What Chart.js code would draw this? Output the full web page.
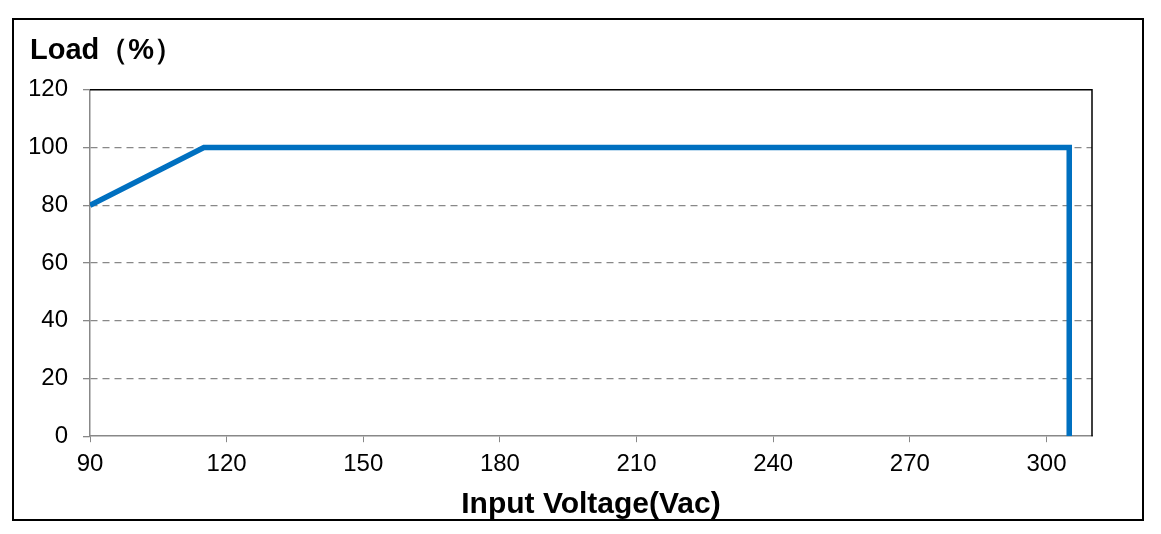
<!DOCTYPE html>
<html>
<head>
<meta charset="utf-8">
<script src="https://cdn.jsdelivr.net/npm/chart.js@4"></script>
<style>
  html, body { margin: 0; padding: 0; background: #fff; }
  #wrap { width: 1161px; height: 534px; }
</style>
</head>
<body>
<div id="wrap"><canvas id="canvas"></canvas></div>
<script>
// derating curve: input voltage vs load
let voltage = [90, 115, 305, 305];
let load = [80, 100, 100, 0];
let xTicks = [90, 120, 150, 180, 210, 240, 270, 300];
let yTicks = [0, 20, 40, 60, 80, 100, 120];

let pontos = [];
for (let i = 0; i < voltage.length; i++) {
  pontos.push({ x: voltage[i], y: load[i] });
}

let fonte = 'Liberation Sans, Arial, sans-serif';

// outer frame + black top/right of plot
let moldura = {
  id: 'moldura',
  afterDraw(chart) {
    let ctx = chart.ctx;
    let a = chart.chartArea;
    ctx.save();
    ctx.strokeStyle = '#000';
    ctx.lineWidth = 2;
    ctx.strokeRect(13, 19, 1130, 501);
    ctx.lineWidth = 1.5;
    ctx.beginPath();
    ctx.moveTo(a.left, a.top);
    ctx.lineTo(a.right, a.top);
    ctx.lineTo(a.right, a.bottom);
    ctx.stroke();
    ctx.restore();
  }
};

let configuracao = {
  type: 'line',
  data: {
    datasets: [{
      data: pontos,
      borderColor: '#0070C0',
      backgroundColor: '#0070C0',
      borderWidth: 5.5,
      pointRadius: 0,
      tension: 0,
      fill: false
    }]
  },
  options: {
    responsive: true,
    maintainAspectRatio: false,
    animation: false,
    layout: { padding: { left: 30, right: 69, top: 34, bottom: 11 } },
    plugins: {
      legend: { display: false },
      tooltip: { enabled: false },
      title: {
        display: true,
        text: 'Load（%）',
        align: 'start',
        color: '#000',
        font: { family: fonte, size: 29, weight: 'bold' },
        padding: { top: 0, bottom: 21 }
      }
    },
    scales: {
      x: {
        type: 'linear',
        min: 90,
        max: 310,
        afterBuildTicks: function(axis) {
          axis.ticks = xTicks.map(v => ({ value: v }));
        },
        ticks: {
          color: '#000',
          padding: 8,
          maxRotation: 0,
          font: { family: fonte, size: 24 }
        },
        grid: {
          drawOnChartArea: false,
          drawTicks: true,
          tickLength: 6,
          tickColor: '#888'
        },
        border: { color: '#888', width: 1.5 },
        title: {
          display: true,
          text: 'Input Voltage(Vac)',
          color: '#000',
          padding: { top: 0, bottom: 0 },
          font: { family: fonte, size: 30, weight: 'bold' }
        }
      },
      y: {
        min: 0,
        max: 120,
        afterBuildTicks: function(axis) {
          axis.ticks = yTicks.map(v => ({ value: v }));
        },
        afterFit: function(axis) {
          axis.width = 60;
        },
        ticks: {
          color: '#000',
          padding: 15,
          font: { family: fonte, size: 24 }
        },
        grid: {
          color: function(c) {
            if (c.tick && (c.tick.value === 0 || c.tick.value === 120)) return 'rgba(0,0,0,0)';
            return '#888';
          },
          lineWidth: 1.3,
          tickBorderDash: [],
          tickLength: 7,
          tickColor: '#888'
        },
        border: { color: '#888', width: 1.5, dash: [7, 5] }
      }
    }
  },
  plugins: [moldura]
};

let chart = new Chart(document.getElementById('canvas'), configuracao);
</script>
</body>
</html>
